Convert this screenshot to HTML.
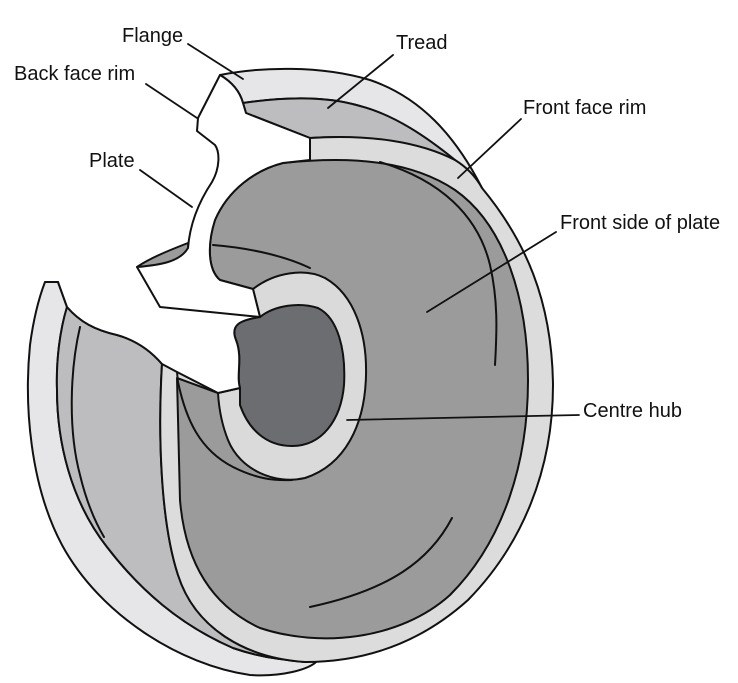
<!DOCTYPE html>
<html><head><meta charset="utf-8"><style>
html,body{margin:0;padding:0;background:#fff;}
svg{display:block;}
text{font-family:"Liberation Sans",sans-serif;font-size:20px;fill:#111;}
</style></head><body>
<svg width="738" height="683" viewBox="0 0 738 683" xmlns="http://www.w3.org/2000/svg">
<g stroke="#111" stroke-width="2" stroke-linejoin="round" stroke-linecap="round">
<!-- back rim left piece -->
<path fill="#e6e6e8" d="M45,282 L58,282 L67,307 C60,330 56,360 57,390 C57,440 70,500 107,547 C140,590 180,625 233,648 C262,658 290,662 318,660 C310,670 280,677 250,675 C180,665 100,615 62,545 C30,485 24,405 30,345 C34,315 40,295 45,282 Z"/>
<!-- left tread -->
<path fill="#bdbdbf" d="M67,307 C80,322 95,330 117,335 C135,340 150,350 162,364 C158,430 160,520 178,575 C195,628 245,658 305,662 L318,660 C290,662 262,658 233,648 C180,625 140,590 107,547 C70,500 57,440 57,390 C56,360 60,330 67,307 Z"/>
<path fill="none" d="M80,327 C70,370 68,430 80,475 C86,500 94,520 104,537"/>
<!-- top back band -->
<path fill="#e6e6e8" d="M220,75 C260,67 320,65 370,80 C420,97 455,135 482,188 L455,160 C425,138 395,118 360,106 C330,97 290,96 243,103 C240,92 232,82 220,75 Z"/>
<!-- top tread -->
<path fill="#bdbdbf" d="M243,103 C290,96 330,97 360,106 C395,115 428,138 455,160 C420,145 370,134 310,138 L246,113 Z"/>
<!-- front rim -->
<path fill="#dcdcdc" d="M310,138 C370,134 420,142 455,160 C468,168 476,177 482,188 C525,240 552,300 553,385 C553,470 522,545 468,600 C418,645 362,662 305,662 C245,658 195,628 178,575 C160,520 158,430 162,364 L160,307 L220,280 L283,163 L310,160 Z"/>
<!-- plate -->
<path fill="#9b9b9b" d="M283,163 C350,156 410,160 455,190 C505,225 528,300 528,380 C528,460 505,540 450,595 C400,640 320,648 260,628 C210,605 185,560 180,500 L177,378 L218,393 L240,388 L260,317 L253,289 L220,280 C208,270 207,245 215,220 C228,190 255,170 283,163 Z"/>
<path fill="none" d="M380,162 C440,180 478,215 490,265 C498,300 497,330 495,365"/>
<path fill="none" d="M452,518 C430,560 390,590 310,607"/>
<path fill="none" d="M213,245 C250,248 285,256 310,268"/>
<path fill="none" d="M178,382 C186,420 200,450 233,467 C255,478 272,481 292,480"/>
<!-- hub ring -->
<path fill="#dadada" d="M253,289 C275,272 305,268 325,278 C355,295 367,335 366,375 C365,425 345,465 305,478 C275,485 240,470 228,440 C222,425 219,410 218,393 L240,388 L260,317 Z"/>
<!-- hub hole -->
<path fill="#6c6d71" d="M260,317 C275,305 300,302 318,308 C338,318 346,350 344,385 C341,420 322,446 292,446 C265,446 248,428 240,405 L240,388 C236,375 243,358 236,340 C230,325 240,320 260,317 Z"/>
<!-- lower white -->
<path fill="#fff" stroke="none" d="M67,307 L58,282 L140,270 L160,307 L260,317 C240,320 230,328 236,340 C243,358 236,375 240,388 L218,393 L177,372 L162,364 C150,350 135,340 117,335 C95,330 80,322 67,307 Z"/>
<path fill="none" d="M58,282 L67,307 C80,322 95,330 117,335 C135,340 150,350 162,364 L177,372 L218,393 L240,388 C236,375 243,358 236,340 C230,325 240,320 260,317"/>
<path fill="none" d="M177,372 L178,382"/>
<!-- hub flange grey top -->
<path fill="#9b9b9b" d="M137,267 C150,258 170,250 188,243 L190,262 C175,266 155,268 137,267 Z"/>
<!-- upper white plate section -->
<path fill="#fff" d="M220,75 C232,82 240,92 243,103 L246,113 L310,138 L310,160 L283,163 C255,170 228,190 215,220 C207,245 208,270 220,280 L253,289 L260,317 L160,307 L137,267 C160,265 180,262 188,248 C190,222 200,200 212,182 C220,168 220,152 215,145 L197,131 L198,118 Z"/>
<!-- leader lines -->
<path fill="none" stroke-width="1.8" d="M188,44 L243,79 M146,84 L197,118 M393,55 L328,108 M140,170 L192,207 M521,119 L458,178 M556,232 L427,312 M347,420 L579,415"/>
</g>
<text x="122" y="42">Flange</text>
<text x="14" y="80">Back face rim</text>
<text x="396" y="49">Tread</text>
<text x="89" y="167">Plate</text>
<text x="523" y="114">Front face rim</text>
<text x="560" y="229">Front side of plate</text>
<text x="583" y="417">Centre hub</text>
</svg>
</body></html>
